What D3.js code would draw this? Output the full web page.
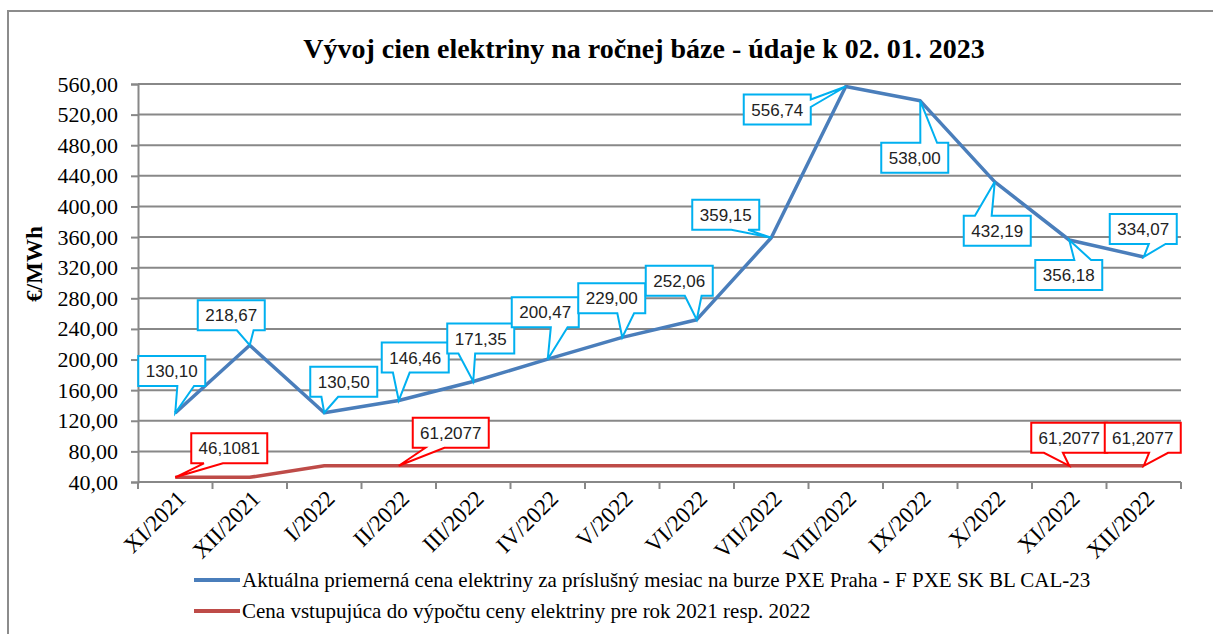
<!DOCTYPE html>
<html>
<head>
<meta charset="utf-8">
<script src="https://cdn.jsdelivr.net/npm/d3@7"></script>
<style>
body { margin: 0; background: #fff; }
</style>
</head>
<body>
<svg id="chart" width="1213" height="634"></svg>
<script>
var months = ["XI/2021", "XII/2021", "I/2022", "II/2022", "III/2022", "IV/2022", "V/2022",
    "VI/2022", "VII/2022", "VIII/2022", "IX/2022", "X/2022", "XI/2022", "XII/2022"];
var burzaPrice = [130.10, 218.67, 130.50, 146.46, 171.35, 200.47, 229.00,
    252.06, 359.15, 556.74, 538.00, 432.19, 356.18, 334.07];
var basePrice = [46.1081, 46.1081, 61.2077, 61.2077, 61.2077, 61.2077, 61.2077,
    61.2077, 61.2077, 61.2077, 61.2077, 61.2077, 61.2077, 61.2077];
var yTickValues = [40, 80, 120, 160, 200, 240, 280, 320, 360, 400, 440, 480, 520, 560];
var seriesNames = [
    "Aktuálna priemerná cena elektriny za príslušný mesiac na burze PXE Praha - F PXE SK BL CAL-23",
    "Cena vstupujúca do výpočtu ceny elektriny pre rok 2021 resp. 2022"
];
var chartTitle = "Vývoj cien elektriny na ročnej báze - údaje k 02. 01. 2023";
var yTitle = "€/MWh";

// points of the red series that carry a label
var redLabelIdx = [0, 3, 12, 13];

// callout box placement (top-left corner, relative to its point)
var blueOffsets = [[-37, -57], [-52, -45], [-14, -46], [-17, -58], [-26, -58], [-36, -62], [-44, -54],
    [-51, -54], [-79, -38], [-102, 8], [-39, 42], [-31, 34], [-34, 20], [-34, -43]];
var redOffsets = [[16, -44], [14, -48], [-38, -43], [-39, -43]];

var blue = "#4a7ebb", red = "#be4b48", gridCol = "#888888";
var serif = "'Liberation Serif', 'Times New Roman', serif";
var sans = "'Liberation Sans', Arial, sans-serif";

var svg = d3.select("#chart");

// outer frame
svg.append("rect")
    .attr("x", 8).attr("y", 11)
    .attr("width", 1230).attr("height", 650)
    .attr("fill", "#fff")
    .attr("stroke", "#8c8c8c")
    .attr("stroke-width", 2);

var plotLeft = 138, plotRight = 1181, plotTop = 84, plotBottom = 482;

var x = d3.scaleBand().domain(months).range([plotLeft, plotRight]).padding(0);
var y = d3.scaleLinear().domain([40, 560]).range([plotBottom, plotTop]);
var cx = function (i) { return x(months[i]) + x.bandwidth() / 2; };

// gridlines
svg.append("g").selectAll("line")
    .data(yTickValues)
    .join("line")
    .attr("x1", plotLeft).attr("x2", plotRight)
    .attr("y1", function (d) { return y(d); })
    .attr("y2", function (d) { return y(d); })
    .attr("stroke", gridCol)
    .attr("stroke-width", 2);

// y axis
var yAxis = svg.append("g")
    .attr("transform", "translate(" + plotLeft + ",0)")
    .call(d3.axisLeft(y)
        .tickValues(yTickValues)
        .tickSize(7)
        .tickPadding(13)
        .tickFormat(function (d) { return d.toFixed(2).replace(".", ","); }));
yAxis.select(".domain").attr("stroke", gridCol).attr("stroke-width", 2);
yAxis.selectAll(".tick line").attr("stroke", gridCol).attr("stroke-width", 2);
yAxis.selectAll(".tick text")
    .attr("font-family", serif)
    .attr("font-size", 22)
    .attr("fill", "#000");

// x axis: ticks between categories
var bounds = months.map(function (m) { return x(m); }).concat([plotRight]);
svg.append("g").selectAll("line")
    .data(bounds)
    .join("line")
    .attr("x1", function (d) { return d; }).attr("x2", function (d) { return d; })
    .attr("y1", plotBottom).attr("y2", plotBottom + 7)
    .attr("stroke", gridCol)
    .attr("stroke-width", 2);

svg.append("g").selectAll("text")
    .data(months)
    .join("text")
    .attr("transform", function (d, i) {
        return "translate(" + (cx(i) + 12) + "," + (plotBottom + 18) + ") rotate(-45)";
    })
    .attr("text-anchor", "end")
    .attr("font-family", serif)
    .attr("font-size", 23)
    .attr("fill", "#000")
    .text(function (d) { return d; });

// series lines
var line = d3.line()
    .x(function (d, i) { return cx(i); })
    .y(function (d) { return y(d); });

svg.append("path")
    .datum(basePrice)
    .attr("d", line)
    .attr("fill", "none")
    .attr("stroke", red)
    .attr("stroke-width", 3.5);

svg.append("path")
    .datum(burzaPrice)
    .attr("d", line)
    .attr("fill", "none")
    .attr("stroke", blue)
    .attr("stroke-width", 3.5)
    .attr("stroke-linejoin", "round");

// wedge rectangle callout, same geometry as the office preset
function calloutPath(bx, by, w, h, tx, ty) {
    var mx = bx + w / 2, my = by + h / 2;
    var dx = tx - mx, dy = ty - my;
    var dq = dx * h / w;
    var x1 = bx + w * (dx > 0 ? 7 : 2) / 12, x2 = bx + w * (dx > 0 ? 10 : 5) / 12;
    var y1 = by + h * (dy > 0 ? 7 : 2) / 12, y2 = by + h * (dy > 0 ? 10 : 5) / 12;
    var r = bx + w, b = by + h;
    var p;
    if (Math.abs(dy) > Math.abs(dq)) {
        if (dy < 0) {
            p = [[bx, by], [x1, by], [tx, ty], [x2, by], [r, by], [r, b], [bx, b]];
        } else {
            p = [[bx, by], [r, by], [r, b], [x2, b], [tx, ty], [x1, b], [bx, b]];
        }
    } else {
        if (dx < 0) {
            p = [[bx, by], [r, by], [r, b], [bx, b], [bx, y2], [tx, ty], [bx, y1]];
        } else {
            p = [[bx, by], [r, by], [r, y1], [tx, ty], [r, y2], [r, b], [bx, b]];
        }
    }
    return "M" + p.map(function (q) { return q[0] + "," + q[1]; }).join("L") + "Z";
}

function fmt(v, dec) { return v.toFixed(dec).replace(".", ","); }

function drawCallouts(items, stroke, w) {
    var h = 30;
    var g = svg.append("g");
    items.forEach(function (it) {
        var tx = cx(it.i), ty = y(it.v);
        var bx = tx + it.off[0], by = ty + it.off[1];
        g.append("path")
            .attr("d", calloutPath(bx, by, w, h, tx, ty))
            .attr("fill", "#fff")
            .attr("stroke", stroke)
            .attr("stroke-width", 2)
            .attr("stroke-linejoin", "miter");
        g.append("text")
            .attr("x", bx + w / 2)
            .attr("y", by + h / 2)
            .attr("dy", "0.36em")
            .attr("text-anchor", "middle")
            .attr("font-family", sans)
            .attr("font-size", 17)
            .attr("fill", "#222")
            .text(it.label);
    });
}

drawCallouts(burzaPrice.map(function (v, i) {
    return { i: i, v: v, off: blueOffsets[i], label: fmt(v, 2) };
}), "#00b0f0", 67);

drawCallouts(redLabelIdx.map(function (idx, k) {
    return { i: idx, v: basePrice[idx], off: redOffsets[k], label: fmt(basePrice[idx], 4) };
}), "#ff0000", 76);

// title
svg.append("text")
    .attr("x", 644).attr("y", 58)
    .attr("text-anchor", "middle")
    .attr("font-family", serif)
    .attr("font-weight", "bold")
    .attr("font-size", 28)
    .attr("fill", "#000")
    .text(chartTitle);

// y title
svg.append("text")
    .attr("transform", "translate(42,264) rotate(-90)")
    .attr("text-anchor", "middle")
    .attr("font-family", serif)
    .attr("font-weight", "bold")
    .attr("font-size", 23)
    .attr("fill", "#000")
    .text(yTitle);

// legend
var legend = svg.append("g").selectAll("g")
    .data(seriesNames)
    .join("g")
    .attr("transform", function (d, i) { return "translate(194," + (580 + i * 31) + ")"; });
legend.append("line")
    .attr("x1", 0).attr("x2", 46)
    .attr("stroke", function (d, i) { return i === 0 ? blue : red; })
    .attr("stroke-width", 4);
legend.append("text")
    .attr("x", 48)
    .attr("dy", "0.33em")
    .attr("font-family", serif)
    .attr("font-size", 21)
    .attr("fill", "#000")
    .text(function (d) { return d; });
</script>
</body>
</html>
